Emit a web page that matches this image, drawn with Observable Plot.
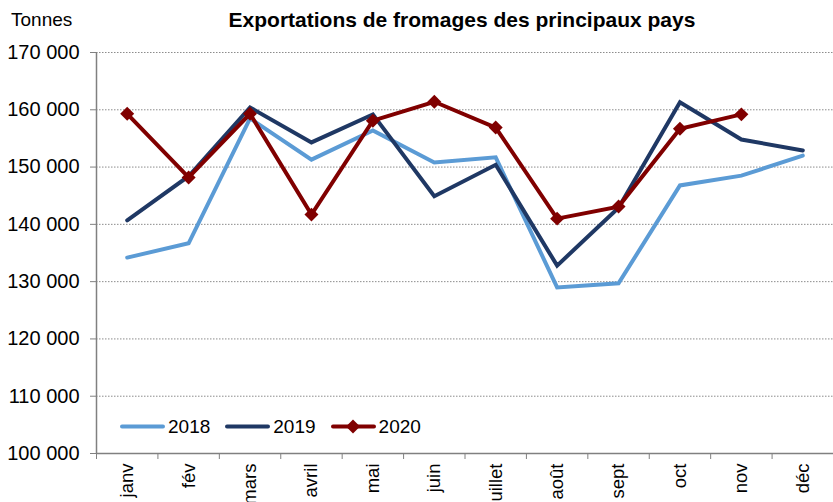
<!DOCTYPE html>
<html>
<head>
<meta charset="utf-8">
<script src="https://cdn.jsdelivr.net/npm/d3@7"></script>
<script src="https://cdn.jsdelivr.net/npm/@observablehq/plot@0.6"></script>
<style>
  html, body { margin: 0; padding: 0; background: #fff; }
  #wrap { position: relative; width: 833px; height: 502px; overflow: hidden; font-family: "Liberation Sans", Arial, sans-serif; }
  #wrap > svg { position: absolute; left: 0; top: 0; }
  .ttl { position: absolute; top: 9px; left: 0; width: 924px; text-align: center; font-weight: bold; font-size: 21px; line-height: 21px; }
  .unit { position: absolute; top: 10px; left: 11px; font-size: 19px; line-height: 19px; }
  .legend { position: absolute; top: 417px; left: 120px; display: flex; gap: 15px; font-size: 19px; line-height: 19px; }
  .legend .it { display: flex; align-items: center; gap: 3px; }
</style>
</head>
<body>
<div id="wrap">
  <div class="unit">Tonnes</div>
  <div class="ttl">Exportations de fromages des principaux pays</div>
</div>
<script>
const months = ["janv","fév","mars","avril","mai","juin","juillet","août","sept","oct","nov","déc"];
const years = ["2018","2019","2020"];
const v2018 = [134200,136700,158500,151300,156400,150800,151700,129000,129700,146800,148500,152000];
const v2019 = [140700,148400,160400,154300,159200,144900,150400,132800,142900,161300,154800,152900];
const v2020 = [159300,148200,159300,141700,158100,161400,156900,141000,143100,156700,159200];
const yTicks = [100000,110000,120000,130000,140000,150000,160000,170000];
const colors = {"2018":"#5B9BD5","2019":"#1F3864","2020":"#800000"};

const series = {"2018": v2018, "2019": v2019, "2020": v2020};
const data = years.flatMap(y => series[y].map((v, i) => ({year: y, i: i + 0.5, month: months[i], value: v})));
const fmt = d => d3.format(",")(d).replace(/,/g, "\u00a0");

const chart = Plot.plot({
  width: 833,
  height: 502,
  marginTop: 52,
  marginBottom: 49,
  marginLeft: 96,
  marginRight: 0,
  style: {fontFamily: "'Liberation Sans', Arial, sans-serif", background: "white"},
  x: {domain: [0, 12], axis: null, label: null},
  y: {domain: [100000, 170000], axis: null, label: null},
  marks: [
    Plot.gridY(yTicks.slice(1), {stroke: "#8c8c8c", strokeOpacity: 1, strokeDasharray: "1.5,1.5", strokeWidth: 1}),
    Plot.axisY(yTicks, {label: null, tickSize: 6, tickPadding: 11, tickFormat: fmt, fontSize: 20, stroke: "#808080", fill: "black"}),
    Plot.axisX(d3.range(0, 13), {label: null, tickSize: 6, tickFormat: () => "", stroke: "#808080"}),
    Plot.axisX(months.map((m, i) => i + 0.5), {label: null, tickSize: 0, tickPadding: 10, tickRotate: -90, tickFormat: d => months[Math.floor(d)], fontSize: 18.5, fill: "black"}),
    Plot.ruleY([100000], {stroke: "#808080", strokeWidth: 1.5}),
    Plot.ruleX([0], {stroke: "#808080", strokeWidth: 1.5}),
    Plot.line(data, {x: "i", y: "value", z: "year", stroke: d => colors[d.year], strokeWidth: 4, strokeLinejoin: "miter", strokeMiterlimit: 3}),
    Plot.dot(data.filter(d => d.year === "2020"), {x: "i", y: "value", symbol: "diamond2", r: 6.3, fill: colors["2020"], stroke: "none"})
  ]
});
const wrap = document.getElementById("wrap");
wrap.insertBefore(chart, wrap.firstChild);

// legend
const leg = document.createElement("div");
leg.className = "legend";
years.forEach(y => {
  const it = document.createElement("div");
  it.className = "it";
  const diamond = y === "2020" ? `<path d="M22 0.5 L29 7.5 L22 14.5 L15 7.5 Z" fill="${colors[y]}"/>` : "";
  it.innerHTML = `<svg width="45" height="15"><line x1="2" x2="43" y1="7.5" y2="7.5" stroke="${colors[y]}" stroke-width="4" stroke-linecap="round"/>${diamond}</svg><span>${y}</span>`;
  leg.appendChild(it);
});
wrap.appendChild(leg);
</script>
</body>
</html>
